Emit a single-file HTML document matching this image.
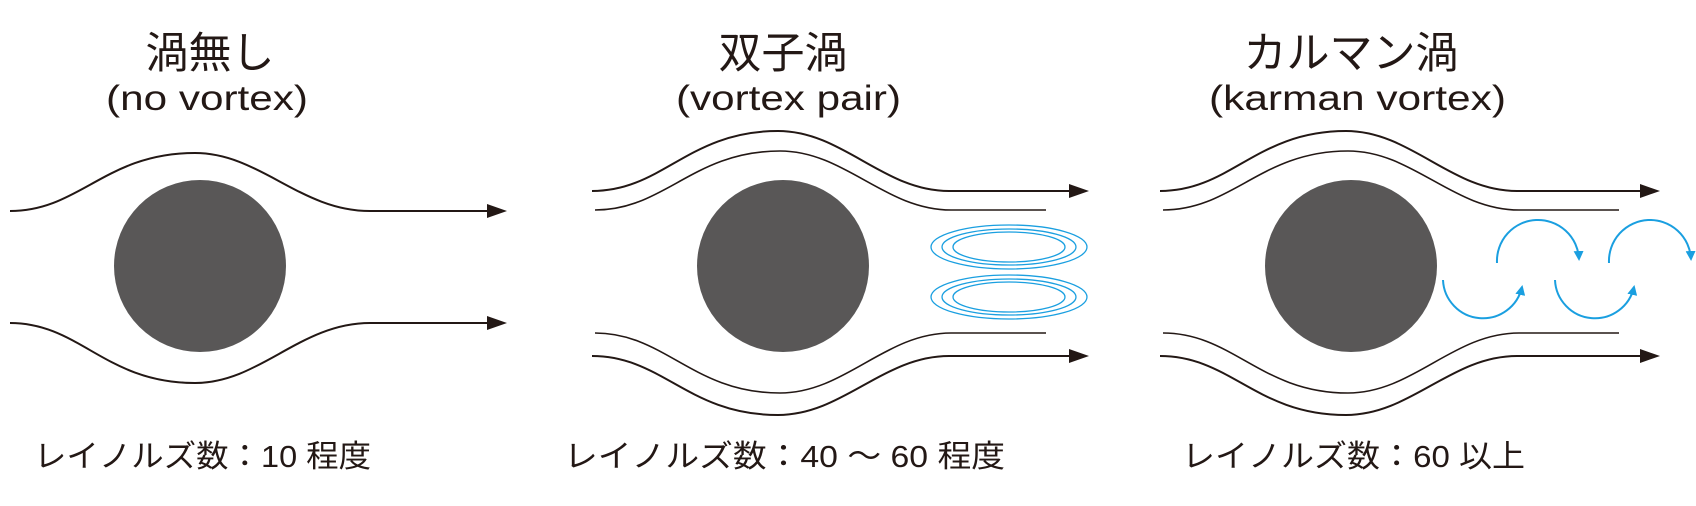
<!DOCTYPE html>
<html><head><meta charset="utf-8"><style>
html,body{margin:0;padding:0;background:#fff;}
svg{display:block}
text{font-family:"Liberation Sans","Noto Sans CJK JP",sans-serif;fill:#231815;}
</style></head><body>
<svg width="1696" height="506" viewBox="0 0 1696 506" xmlns="http://www.w3.org/2000/svg">
<defs>
<marker id="ba" markerWidth="10" markerHeight="10" refX="8" refY="5" orient="auto" markerUnits="userSpaceOnUse"><path d="M0,0 L10,5 L0,10 Z" fill="#1a9fe0"/></marker>
</defs>
<g fill="none" stroke="#231815" stroke-width="2">
<g transform="translate(200,0)">
<path d="M-190,211 C-120,211 -95,153 -5,153 C60,153 100,211 170,211 L290,211"/>
<path d="M-190,323 C-120,323 -95,383 -5,383 C60,383 100,323 170,323 L290,323"/>
</g>
<g transform="translate(783,0)">
<path d="M-191,191 C-120,191 -95,131 -5,131 C60,131 100,191 166,191 L290,191"/>
<path d="M-188,210 C-118,210 -90,151 -3,151 C62,151 102,210 168,210 L263,210" stroke-width="1.6"/>
<path d="M-188,333 C-118,333 -90,393 -3,393 C62,393 102,333 168,333 L263,333" stroke-width="1.6"/>
<path d="M-191,356 C-120,356 -95,415 -5,415 C60,415 100,356 166,356 L290,356"/>
</g>
<g transform="translate(1351,0)">
<path d="M-191,191 C-120,191 -95,131 -5,131 C60,131 100,191 166,191 L290,191"/>
<path d="M-188,210 C-118,210 -90,151 -3,151 C62,151 102,210 168,210 L268,210" stroke-width="1.6"/>
<path d="M-188,333 C-118,333 -90,393 -3,393 C62,393 102,333 168,333 L268,333" stroke-width="1.6"/>
<path d="M-191,356 C-120,356 -95,415 -5,415 C60,415 100,356 166,356 L290,356"/>
</g>
</g>
<g fill="#231815">
<polygon points="507,211 487,204 487,218"/>
<polygon points="507,323 487,316 487,330"/>
<polygon points="1089,191 1069,184 1069,198"/>
<polygon points="1089,356 1069,349 1069,363"/>
<polygon points="1660,191 1640,184 1640,198"/>
<polygon points="1660,356 1640,349 1640,363"/>
</g>
<g fill="#595757">
<circle cx="200" cy="266" r="86"/>
<circle cx="783" cy="266" r="86"/>
<circle cx="1351" cy="266" r="86"/>
</g>
<g fill="none" stroke="#1a9fe0" stroke-width="1.3">
<ellipse cx="1009" cy="247" rx="78" ry="22"/>
<ellipse cx="1009" cy="247" rx="67" ry="18"/>
<ellipse cx="1009" cy="247" rx="56" ry="15"/>
<ellipse cx="1009" cy="297" rx="78" ry="22"/>
<ellipse cx="1009" cy="297" rx="67" ry="18"/>
<ellipse cx="1009" cy="297" rx="56" ry="15"/>
</g>
<g fill="none" stroke="#1a9fe0" stroke-width="2" marker-end="url(#ba)">
<path d="M1443,280 A40,40 0 0 0 1522,287"/>
<path d="M1497,263 A41,41 0 0 1 1579,259"/>
<path d="M1555,280 A40,40 0 0 0 1634,287"/>
<path d="M1609,263 A41,41 0 0 1 1691,259"/>
</g>
<g font-size="43" text-anchor="middle">
<text x="210" y="68">渦無し</text>
<text x="783" y="68">双子渦</text>
<text x="1351" y="68">カルマン渦</text>
</g>
<g font-size="35">
<text x="106" y="110" textLength="202" lengthAdjust="spacingAndGlyphs">(no vortex)</text>
<text x="676" y="110" textLength="225" lengthAdjust="spacingAndGlyphs">(vortex pair)</text>
<text x="1209" y="110" textLength="297" lengthAdjust="spacingAndGlyphs">(karman vortex)</text>
</g>
<g font-size="31">
<text x="34" y="467" textLength="337" lengthAdjust="spacingAndGlyphs">レイノルズ数：10 程度</text>
<text x="564" y="467" textLength="441" lengthAdjust="spacingAndGlyphs">レイノルズ数：40 ～ 60 程度</text>
<text x="1182" y="467" textLength="343" lengthAdjust="spacingAndGlyphs">レイノルズ数：60 以上</text>
</g>
</svg>
</body></html>
